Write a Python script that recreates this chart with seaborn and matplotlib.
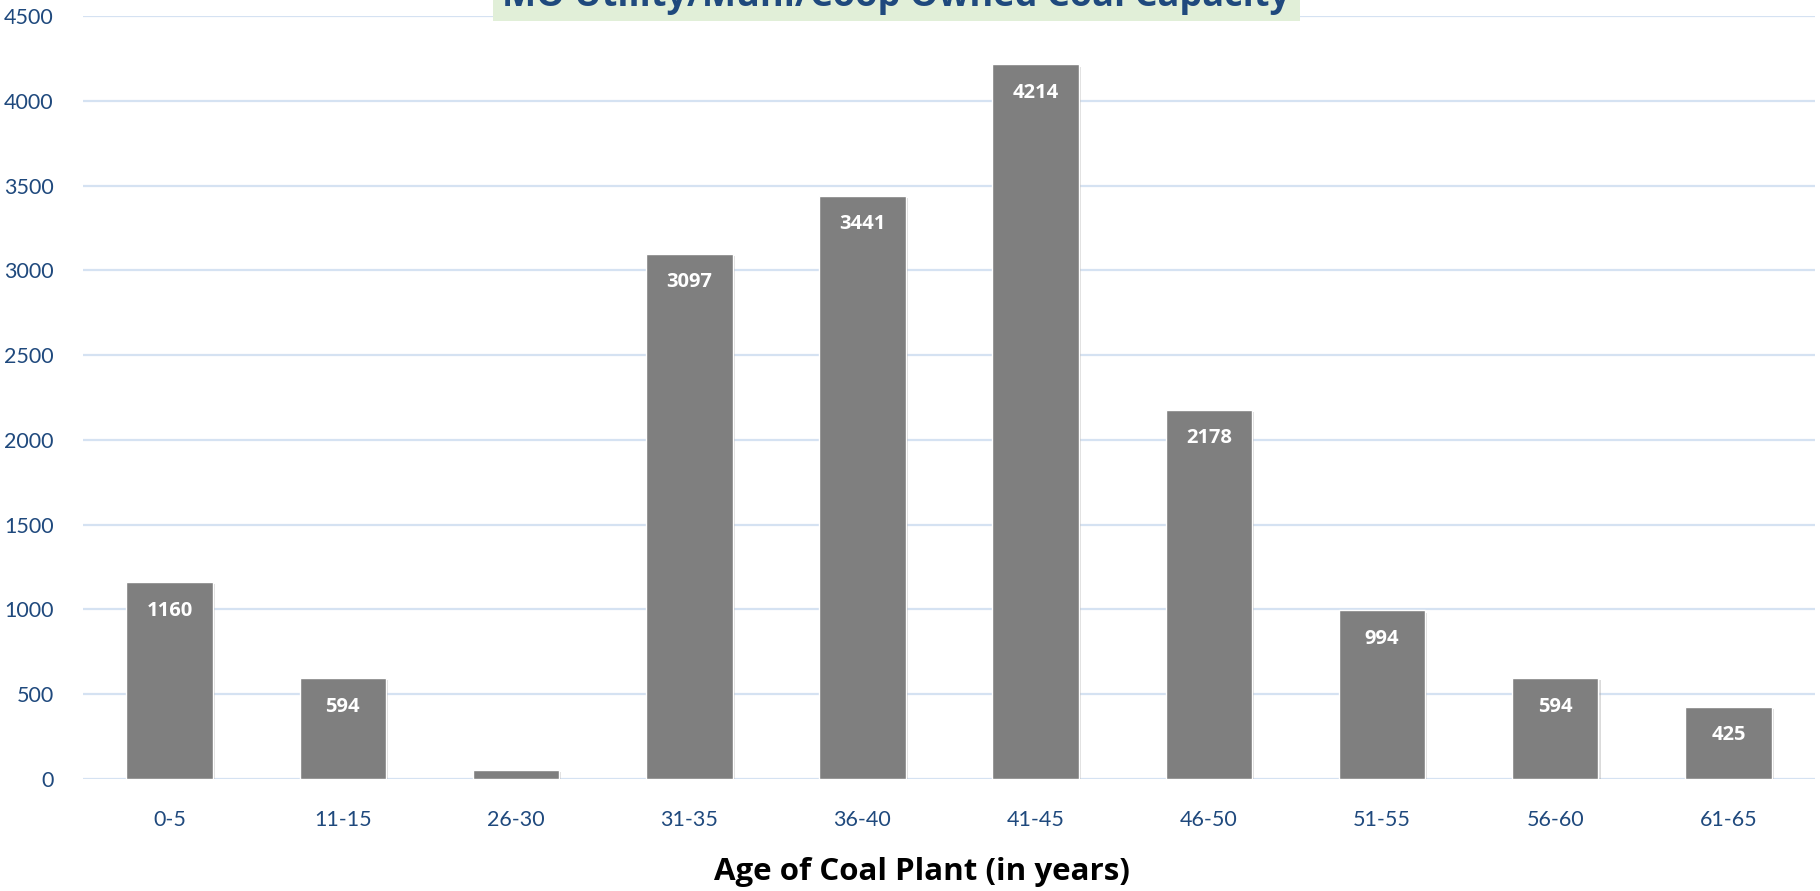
import matplotlib
matplotlib.use("Agg")
import matplotlib.pyplot as plt
import matplotlib.patches as mpatches
import matplotlib.patheffects as pe
import seaborn as sns
import pandas as pd

# Data
age_groups = ['0-5', '11-15', '26-30', '31-35', '36-40', '41-45', '46-50', '51-55', '56-60', '61-65']
capacity_mw = [1160, 594, 52, 3097, 3441, 4214, 2178, 994, 594, 425]

title_text = 'MO Utility/Muni/Coop Owned Coal Capacity'
xlabel_text = 'Age of Coal Plant (in years)'

text_blue = '#1f497d'
bar_gray = '#7f7f7f'
grid_blue = '#d5e2f2'
bold_font = ['Open Sans', 'DejaVu Sans']

sns.set_theme(style='white')
plt.rcParams['font.family'] = ['Lato', 'DejaVu Sans']

df = pd.DataFrame({'age': age_groups, 'capacity': capacity_mw})

fig = plt.figure(figsize=(18.2, 8.91), dpi=100)
ax = fig.add_axes([83 / 1820, 112 / 891, (1815 - 83) / 1820, (779 - 16) / 891])

sns.barplot(data=df, x='age', y='capacity', color=bar_gray, saturation=1,
            width=0.5, ax=ax, zorder=3)

# soft drop shadow like the original office chart
for bar in ax.patches:
    bar.set_path_effects([pe.SimplePatchShadow(offset=(1.5, -1.5), shadow_rgbFace='#999999', alpha=0.35),
                          pe.Normal()])

ax.set_ylim(0, 4500)
ax.set_yticks(range(0, 4501, 500))
ax.set_xlim(-0.5, len(age_groups) - 0.5)
ax.yaxis.grid(True, color=grid_blue, linewidth=1.6, zorder=0)
ax.set_axisbelow(True)
for side in ['left', 'right', 'top', 'bottom']:
    ax.spines[side].set_visible(False)

ax.tick_params(axis='y', length=0, pad=21, labelsize=15.5, labelcolor=text_blue)
ax.tick_params(axis='x', length=0, pad=22, labelsize=15.5, labelcolor=text_blue)
ax.set_ylabel('')
ax.set_xlabel('')

# value labels inside the top of each bar
for bar, v in zip(ax.patches, capacity_mw):
    if v < 200:
        continue
    ax.annotate(f'{v}', (bar.get_x() + bar.get_width() / 2, v),
                xytext=(0, -20.5), textcoords='offset points',
                ha='center', va='center', color='white', family=bold_font,
                fontsize=14.5, fontweight='bold', zorder=4)

fig.text(922 / 1820, 1 - 872 / 891, xlabel_text, ha='center', va='center',
         fontsize=22.5, fontweight='bold', color='black', family=bold_font)

# title box, clipped at the top of the image as in the original
fig.patches.append(mpatches.Rectangle((493 / 1820, 1 - 21 / 891), (1300 - 493) / 1820, 30 / 891,
                                      transform=fig.transFigure, facecolor='#e1efd8',
                                      edgecolor='none', zorder=1))
fig.text(896 / 1820, 1 - 6 / 891, title_text, ha='center', va='baseline', family=bold_font,
         fontsize=26, fontweight='bold', color=text_blue, zorder=2)

fig.savefig('out.png', dpi=100)
